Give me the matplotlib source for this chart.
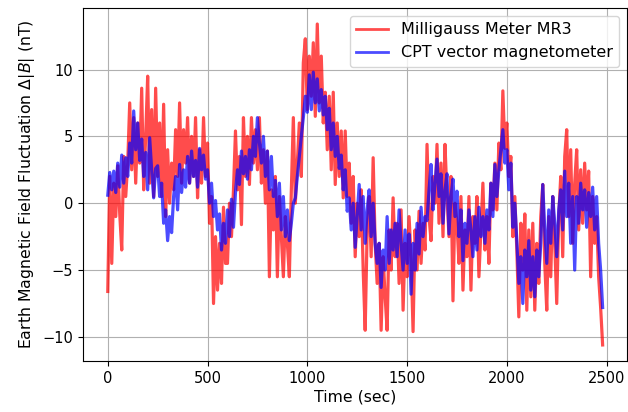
import numpy as np
import matplotlib
matplotlib.use("Agg")
import matplotlib.pyplot as plt

# time axis (sec), one sample every 10 s
time_start = 0
time_step = 10

# Milligauss Meter MR3 (nT)
mr3 = [
    -6.6, 2.0, -4.5, 1.5, -1.0,
    2.8, -0.8, -3.5, 3.5, 0.5,
    3.0, 7.5, 2.5, 6.4, 1.5,
    6.0, 3.0, 8.6, 1.0, 5.0,
    9.5, 1.5, 7.0, 0.5, 8.6,
    2.0, 6.0, 0.5, 7.4, -1.0,
    4.0, 0.0, 3.0, 1.0, 5.5,
    2.0, 7.5, 1.5, 5.5, 3.0,
    6.4, 1.5, 5.0, 2.0, 6.4,
    0.4, 4.0, 1.5, 6.4, 2.0,
    4.5, -1.5, 0.5, -7.5, -2.5,
    -6.5, -3.0, -6.0, -0.3, -4.5,
    -4.5, 0.0, -2.5, 1.0, 5.4,
    1.0, 3.5, -1.6, 6.4, 2.0,
    5.0, 1.4, 6.4, 3.0, 5.5,
    2.5, 6.4, 1.5, 4.0, 0.0,
    3.9, -5.5, 1.0, -2.0, 2.0,
    -5.5, 0.5, -2.5, -5.5, -1.0,
    -3.0, -5.5, 1.0, 6.4, 0.0,
    3.0, 6.0, 2.0, 10.5, 12.3,
    7.0, 11.0, 8.0, 12.0, 6.5,
    13.4, 7.5, 11.0, 6.0, 8.3,
    4.0, 8.0, 2.5, 8.3, 1.4,
    6.0, 2.0, 5.4, 0.4, 5.4,
    0.5, 3.0, -1.5, 2.0, -4.0,
    0.0, -2.5, 1.0, -5.0, -9.5,
    -2.0, 0.5, -4.0, 3.4, -3.0,
    -6.0, -3.0, -9.5, -4.0, -7.0,
    -9.5, -2.0, -5.0, 0.4, -4.0,
    -1.5, -6.0, -0.5, -8.0, -3.0,
    -5.5, -1.0, -4.0, -9.6, -2.0,
    -5.0, -0.6, -4.5, -1.5, -3.5,
    4.4, -1.0, -2.8, 2.0, 0.0,
    4.4, -1.5, 3.0, -2.5, 4.4,
    0.5, -2.5, 2.0, -7.3, 0.0,
    -1.5, -4.5, 0.5, -6.5, -2.0,
    -4.0, 0.5, -6.5, -1.0, -3.0,
    0.5, -5.5, -2.0, 1.5, -3.5,
    -1.0, -4.5, 1.5, -0.5, 3.0,
    -0.5, 4.5, 2.5, 8.4, 4.1,
    6.0, 2.0, 3.5, -2.5, 0.5,
    -3.5, -8.5, -1.5, -5.0, -0.8,
    -8.0, -2.0, -7.0, -1.5, -8.0,
    -3.0, -6.0, -1.0, 1.4, -4.5,
    -8.0, -1.0, -5.5, 0.5, -3.0,
    -7.5, -1.0, 2.0, -4.0, 3.5,
    5.5, -1.0, 4.0, -3.0, 1.5,
    4.0, -2.0, 2.5, -1.5, 3.0,
    -0.5, 2.4, -5.5, 0.5, -3.0,
    -1.0, -5.5, -7.8, -10.6,
]

# CPT vector magnetometer (nT)
cpt = [
    0.6, 2.3, 1.0, 2.4, 0.8,
    3.0, 1.2, 3.6, 1.5, 3.4,
    2.0, 4.5, 3.0, 6.9, 4.0,
    6.0, 3.2, 4.8, 2.0, 3.8,
    1.0, 4.9, 2.5, 0.4, 2.6,
    2.8, 0.5, 1.5, -1.5, -0.5,
    -2.8, -1.0, -2.2, 0.5, 2.0,
    -0.5, 2.9, 0.8, 2.5, 1.2,
    3.5, 1.5, 3.9, 2.0, 3.2,
    1.2, 4.1, 2.5, 3.6, 1.8,
    2.5, 0.0, 1.5, -1.0, 0.2,
    -2.0, -0.8, -3.5, -1.5, -3.0,
    -0.5, -2.5, 0.3, -1.8, 0.8,
    2.5, 1.4, 3.9, 2.2, 3.5,
    1.8, 4.0, 2.5, 5.0, 3.5,
    6.4, 4.5, 3.0, 5.0, 2.0,
    3.9, 1.0, 3.5, 0.5, 1.7,
    -1.0, 1.5, -2.0, 0.5, -2.5,
    -0.5, -2.8, -1.5, 0.0, 0.4,
    2.0, 3.5, 5.0, 6.4, 8.0,
    6.8, 9.6, 7.0, 9.8, 7.5,
    9.3, 6.9, 8.5, 6.6, 8.0,
    5.5, 7.1, 4.0, 6.0, 3.5,
    5.0, 2.6, 3.6, 1.0, 2.5,
    -0.6, 0.4, -2.0, 0.0, -3.3,
    -1.0, 1.4, -2.0, 0.5, -3.0,
    -0.5, 1.0, -2.5, 0.0, -3.0,
    -4.5, -3.0, -6.3, -3.5, -5.0,
    -1.0, -4.5, -2.0, -3.5, -1.5,
    -4.0, -0.5, -3.0, -5.0, -2.0,
    -4.5, -2.3, -6.8, -3.0, -5.0,
    -1.5, -3.8, -0.3, -2.5, -1.0,
    -1.3, 1.0, 2.9, -0.5, 1.5,
    3.3, 0.5, 2.2, -1.5, 1.0,
    2.2, -2.3, 0.5, 1.8, -1.0,
    0.9, -2.5, -0.5, -4.3, -1.5,
    -3.0, -0.5, -2.0, -4.0, -1.0,
    -3.5, -0.3, -2.5, -1.0, -3.0,
    -0.5, -2.0, 1.5, -1.0, 2.9,
    0.5, 2.5, 4.0, 5.5, 3.0,
    4.0, 1.0, 3.0, -1.8, 0.0,
    -2.8, -6.0, -4.0, -7.5, -3.5,
    -5.5, -2.8, -6.5, -4.0, -7.0,
    -3.5, -5.5, -3.0, 1.4, -2.0,
    -4.5, -0.5, -3.0, 0.5, -1.5,
    -4.0, -0.5, 1.0, -2.0, 2.4,
    -1.0, 1.5, -3.0, 0.5, -5.0,
    0.5, -1.5, 1.5, -0.5, 1.0,
    -1.8, 0.8, -1.0, 1.2, -2.0,
    0.5, -3.0, -5.0, -7.8,
]

labels = ["Milligauss Meter MR3", "CPT vector magnetometer"]

t_mr3 = time_start + time_step * np.arange(len(mr3))
t_cpt = time_start + time_step * np.arange(len(cpt))

plt.rcParams['font.family'] = ['DejaVu Sans']
plt.rcParams['font.size'] = 10.5

fig = plt.figure(figsize=(6.28, 4.12), dpi=100)
ax = fig.add_axes([0.1322, 0.1238, 0.8668, 0.8568])
ax.plot(t_mr3, mr3, color='red', alpha=0.7, lw=2.3, label=labels[0])
ax.plot(t_cpt, cpt, color='blue', alpha=0.7, lw=2.3, label=labels[1])
ax.grid(True)
ax.set_xlabel("Time (sec)", fontsize=11.3, labelpad=3)
ax.set_ylabel(r"Earth Magnetic Field Fluctuation $\Delta|B|$ (nT)", fontsize=11.3, labelpad=4)
ax.set_yticks([-10, -5, 0, 5, 10])
ax.set_xticks([0, 500, 1000, 1500, 2000, 2500])
leg = ax.legend(loc='upper right', fontsize=11.5)
for h in leg.get_lines():
    h.set_linewidth(2.0)
fig.savefig("out.png", dpi=100)
